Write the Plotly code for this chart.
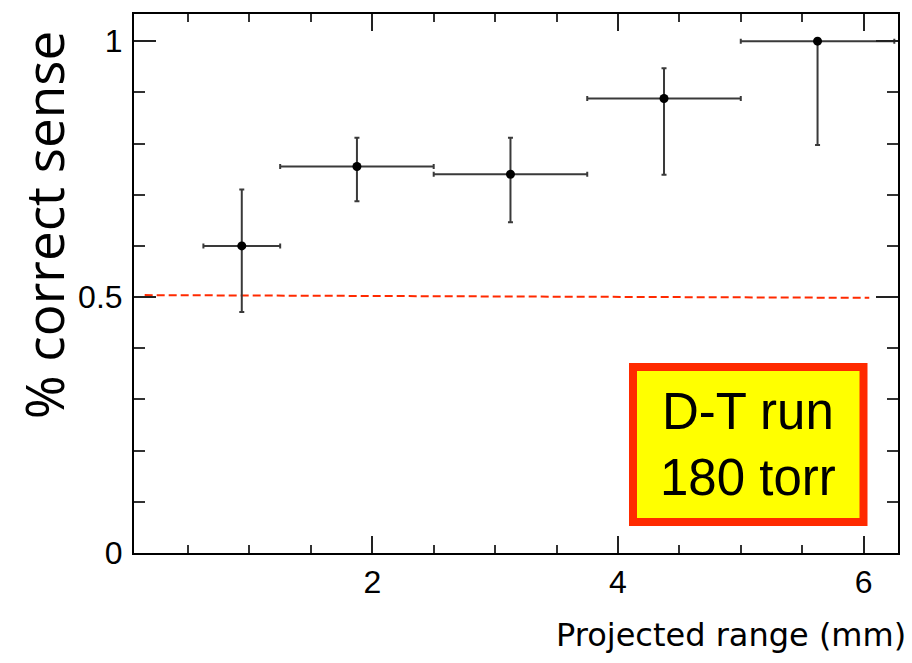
import plotly.graph_objects as go

# Bin centres, half-widths and fractions with asymmetric uncertainties
x_center = [0.9375, 1.875, 3.125, 4.375, 5.625]
x_halfwidth = [0.3125, 0.625, 0.625, 0.625, 0.625]
frac_correct = [0.600, 0.755, 0.740, 0.888, 1.000]
err_up = [0.110, 0.056, 0.071, 0.059, 0.000]
err_down = [0.129, 0.068, 0.094, 0.149, 0.203]

# Chance level reference (hand-drawn dashed line)
chance_x = [0.147, 6.046]
chance_y = [0.5038, 0.4985]

x_tickvals = [2, 4, 6]
x_ticktext = ["2", "4", "6"]
y_tickvals = [0, 0.5, 1]
y_ticktext = ["0", "0.5", "1"]

W, H = 912, 663
L, R, T, B = 134, 14, 12, 110

fig = go.Figure()

fig.add_trace(go.Scatter(
    x=chance_x, y=chance_y, mode="lines",
    line=dict(color="#ff2a00", width=2, dash="8px,4px"),
    hoverinfo="skip", showlegend=False,
))

fig.add_trace(go.Scatter(
    x=x_center, y=frac_correct, mode="markers",
    marker=dict(color="black", size=9),
    error_x=dict(type="data", symmetric=True, array=x_halfwidth,
                 color="#3a3a3a", thickness=2, width=2.5),
    error_y=dict(type="data", symmetric=False, array=err_up, arrayminus=err_down,
                 color="#3a3a3a", thickness=2, width=2.5),
    showlegend=False,
))

tick_font = dict(family="Liberation Sans", size=32, color="black")

fig.update_xaxes(
    range=[0.06, 6.28], showgrid=False, zeroline=False,
    showline=True, linecolor="black", linewidth=2, mirror="ticks",
    ticks="inside", ticklen=17, tickwidth=2, tickcolor="#222",
    tickvals=x_tickvals, ticktext=x_ticktext, tickfont=tick_font,
    minor=dict(ticks="inside", dtick=0.5, tick0=0, ticklen=8,
               tickwidth=2, tickcolor="#333", showgrid=False),
)
fig.update_yaxes(
    range=[0, 1.053], showgrid=False, zeroline=False,
    showline=True, linecolor="black", linewidth=2, mirror="ticks",
    ticks="inside", ticklen=22, tickwidth=2, tickcolor="#222",
    tickvals=y_tickvals, ticktext=y_ticktext, tickfont=tick_font,
    ticklabelstandoff=3,
    minor=dict(ticks="inside", dtick=0.1, tick0=0, ticklen=11,
               tickwidth=2, tickcolor="#333", showgrid=False),
)

pw, ph = W - L - R, H - T - B


def px(xp):
    return (xp - L) / pw


def py(yp):
    return (H - B - yp) / ph


# Run conditions box
fig.add_shape(
    type="rect", xref="paper", yref="paper",
    x0=px(633), x1=px(863.5), y0=py(522), y1=py(366.3),
    line=dict(color="#ff2a00", width=8), fillcolor="#ffff00", layer="above",
)
fig.add_annotation(
    xref="paper", yref="paper", x=px(748), y=py(444),
    text="D-T run<br>180 torr", showarrow=False,
    xanchor="center", yanchor="middle", align="center",
    font=dict(family="Liberation Sans", size=51, color="black"),
)

# Axis titles
fig.add_annotation(
    xref="paper", yref="paper", x=px(908), y=py(635),
    text="Projected range (mm)", showarrow=False,
    xanchor="right", yanchor="middle",
    font=dict(family="DejaVu Sans", size=32, color="black"),
)
fig.add_annotation(
    xref="paper", yref="paper", x=px(43), y=py(224),
    text="% correct sense", showarrow=False, textangle=-90,
    xanchor="center", yanchor="middle",
    font=dict(family="Open Sans", size=53, color="black"),
)

fig.update_layout(
    width=W, height=H,
    margin=dict(l=L, r=R, t=T, b=B, pad=0),
    paper_bgcolor="white", plot_bgcolor="white",
)

fig.write_html("out.html")
